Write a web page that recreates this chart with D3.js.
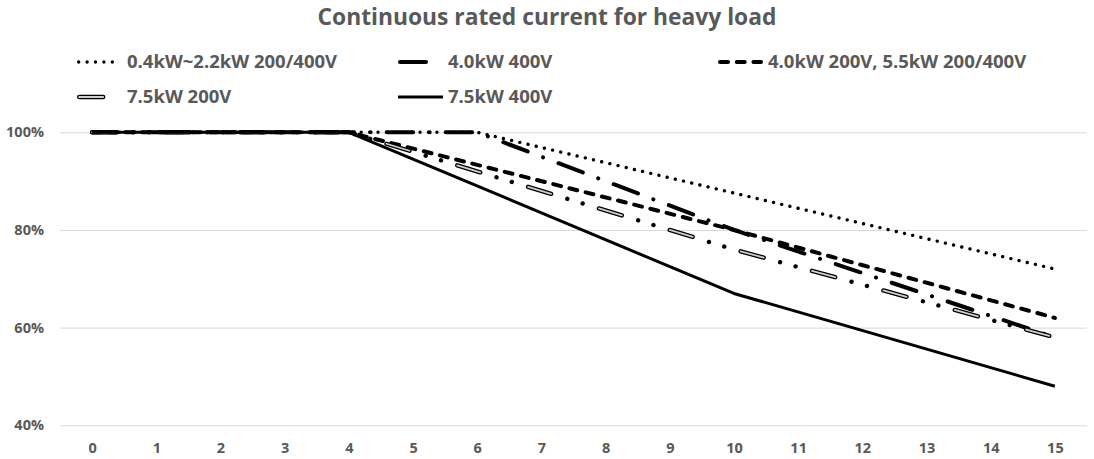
<!DOCTYPE html>
<html>
<head>
<meta charset="utf-8">
<script src="https://cdn.jsdelivr.net/npm/d3@7"></script>
<style>
  html, body { margin: 0; padding: 0; background: #fff; }
  svg { display: block; }
  text { font-family: "Open Sans", Lato, sans-serif; font-weight: bold; fill: #595959; }
</style>
</head>
<body>
<svg id="chart" width="1094" height="459"></svg>
<script>
// Carrier frequency (kHz) categories along the bottom axis
const categories = [0, 1, 2, 3, 4, 5, 6, 7, 8, 9, 10, 11, 12, 13, 14, 15];
const yTicks = [40, 60, 80, 100];

// Each derating curve is a set of straight segments: break points (x) and rated current (%)
const seriesNames = [
  "0.4kW~2.2kW 200/400V",
  "4.0kW 400V",
  "4.0kW 200V, 5.5kW 200/400V",
  "7.5kW 200V",
  "7.5kW 400V"
];
const smallX   = [0, 6, 15];
const smallY   = [100, 100, 72];
const kw4hX    = [0, 6, 10, 15];
const kw4hY    = [100, 100, 80, 58];
const kw55X    = [0, 4, 10, 15];
const kw55Y    = [100, 100, 80, 62];
const kw75lX   = [0, 4, 10, 15];
const kw75lY   = [100, 100, 76, 58];
const kw75hX   = [0, 4, 10, 15];
const kw75hY   = [100, 100, 67, 48];

const seriesX = [smallX, kw4hX, kw55X, kw75lX, kw75hX];
const seriesY = [smallY, kw4hY, kw55Y, kw75lY, kw75hY];

// Stroke styles per series; the hollow dash keeps its dots solid black
const styles = [
  { width: 3.4, dash: "0.01 8.4", cap: "round" },
  { width: 4, dash: "26 16.5 0.01 16.5", cap: "round" },
  { width: 4, dash: "8 8.7", cap: "round" },
  { width: 4.4, dash: "24 17 0.01 16 0.01 17", inner: "24 50.02", cap: "round", hollow: true },
  { width: 3, dash: null, cap: "butt" }
];

const svg = d3.select("#chart");
const plot = { left: 60, right: 1087, top: 132.3, bottom: 425.3 };

const x = d3.scalePoint()
  .domain(categories)
  .range([plot.left, plot.right])
  .padding(0.5);
const xl = d3.scaleLinear()
  .domain([categories[0], categories[categories.length - 1]])
  .range([x(categories[0]), x(categories[categories.length - 1])]);
const y = d3.scaleLinear().domain([40, 100]).range([plot.bottom, plot.top]);

// Title
svg.append("text")
  .attr("x", 547).attr("y", 25)
  .attr("text-anchor", "middle")
  .style("font-size", "22.8px")
  .text("Continuous rated current for heavy load");

// Horizontal gridlines with percentage labels
const yAxis = d3.axisLeft(y)
  .tickValues(yTicks)
  .tickSize(-(plot.right - plot.left))
  .tickPadding(16)
  .tickFormat(d => d + "%");
const gy = svg.append("g")
  .attr("transform", `translate(${plot.left},0)`)
  .call(yAxis);
gy.select(".domain").remove();
gy.selectAll(".tick line").attr("stroke", "#d9d9d9").attr("stroke-width", 1);
gy.selectAll(".tick text")
  .style("font-size", "14.5px")
  .style("font-family", "'Open Sans', sans-serif")
  .attr("fill", "#595959");

// Category axis labels
const xAxis = d3.axisBottom(x).tickSize(0).tickPadding(17);
const gx = svg.append("g")
  .attr("transform", `translate(0,${plot.bottom})`)
  .call(xAxis);
gx.select(".domain").remove();
gx.selectAll(".tick text")
  .style("font-size", "14.5px")
  .style("font-family", "'Open Sans', sans-serif")
  .attr("fill", "#595959");

const line = d3.line().x(d => xl(d[0])).y(d => y(d[1]));

function drawPath(g, d, st) {
  g.append("path").attr("d", d).attr("fill", "none")
    .attr("stroke", "#000").attr("stroke-width", st.width)
    .attr("stroke-dasharray", st.dash).attr("stroke-linecap", st.cap)
    .attr("stroke-linejoin", "round");
  if (st.hollow) {
    g.append("path").attr("d", d).attr("fill", "none")
      .attr("stroke", "#d0d0d0").attr("stroke-width", st.width - 2.6)
      .attr("stroke-dasharray", st.inner).attr("stroke-linecap", st.cap)
      .attr("stroke-linejoin", "round");
  }
}

const lines = svg.append("g");
seriesNames.forEach((name, i) => {
  const pts = seriesX[i].map((v, j) => [v, seriesY[i][j]]);
  drawPath(lines.append("g"), line(pts), styles[i]);
});

// Legend: three entries on the first row, two on the second
const legendPos = [
  { x: 77, y: 62 }, { x: 398, y: 62 }, { x: 718, y: 62 },
  { x: 77, y: 97 }, { x: 398, y: 97 }
];
const legend = svg.append("g");
seriesNames.forEach((name, i) => {
  const p = legendPos[i];
  const g = legend.append("g");
  const st = styles[i];
  const inset = st.cap === "round" ? st.width / 2 : 0;
  drawPath(g, `M${p.x + inset},${p.y}L${p.x + 45 - inset},${p.y}`, st);
  g.append("text")
    .attr("x", p.x + 50).attr("y", p.y)
    .attr("dy", "0.35em")
    .style("font-size", "18.5px")
    .text(name);
});
</script>
</body>
</html>
